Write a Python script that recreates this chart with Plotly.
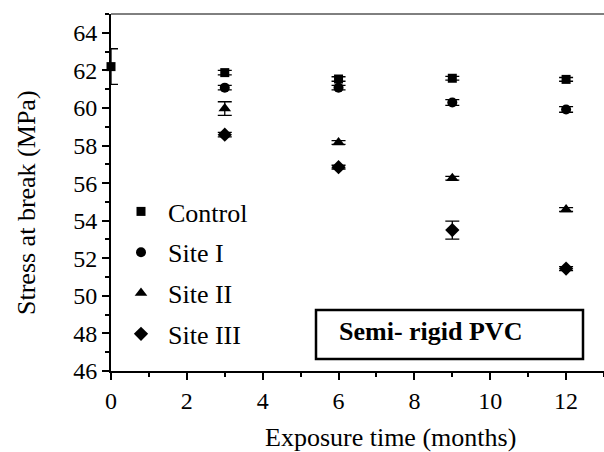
import plotly.graph_objects as go

series_names = ["Control", "Site I", "Site II", "Site III"]
symbols = ["square", "circle", "triangle-up", "diamond"]
sizes = [9, 10, 11, 11]

x_control = [0, 3, 6, 9, 12]
y_control = [62.2, 61.88, 61.54, 61.58, 61.52]
e_control = [0.95, 0.12, 0.12, 0.1, 0.1]

x_sites = [3, 6, 9, 12]
y_site1 = [61.08, 61.08, 60.29, 59.92]
e_site1 = [0.12, 0.12, 0.15, 0.15]
y_site2 = [59.97, 58.16, 56.26, 54.59]
e_site2 = [0.36, 0.1, 0.1, 0.1]
y_site3 = [58.58, 56.85, 53.5, 51.45]
e_site3 = [0.12, 0.1, 0.48, 0.1]

xs = [x_control, x_sites, x_sites, x_sites]
ys = [y_control, y_site1, y_site2, y_site3]
es = [e_control, e_site1, e_site2, e_site3]

FONT = "Liberation Serif"
L, B, PW, PH = 111, 81, 493, 357

def px(x):
    return (x - L) / PW

def py(y):
    return (452 - B - y) / PH

fig = go.Figure()
for i, name in enumerate(series_names):
    fig.add_trace(go.Scatter(
        x=xs[i], y=ys[i], mode="markers", name=name,
        legendgroup=name,
        marker=dict(symbol=symbols[i], size=sizes[i], color="black"),
        error_y=dict(type="data", array=es[i], visible=True, color="black",
                     thickness=1.3, width=7),
        cliponaxis=False,
    ))

fig.update_layout(
    width=604, height=452,
    margin=dict(l=L, r=0, t=14, b=B),
    paper_bgcolor="white", plot_bgcolor="white",
    font=dict(family=FONT, size=24, color="black"),
    showlegend=True,
    legend=dict(x=px(114), y=py(188), xanchor="left", yanchor="top",
                bgcolor="rgba(0,0,0,0)", font=dict(family=FONT, size=26),
                tracegroupgap=4, traceorder="grouped", itemwidth=44),
    xaxis=dict(range=[0, 13], tick0=0, dtick=2, showgrid=False, zeroline=False,
               showline=True, linecolor="black", linewidth=2, mirror=False,
               ticks="outside", ticklen=7, tickwidth=2, tickcolor="black",
               minor=dict(dtick=1, ticks="outside", ticklen=4, tickwidth=2, tickcolor="black"),
               tickfont=dict(family=FONT, size=24)),
    yaxis=dict(range=[46, 65], tick0=46, dtick=2, showgrid=False, zeroline=False,
               showline=True, linecolor="black", linewidth=2,
               ticks="outside", ticklen=7, tickwidth=2, tickcolor="black",
               minor=dict(dtick=1, ticks="outside", ticklen=4, tickwidth=2, tickcolor="black"),
               tickfont=dict(family=FONT, size=24)),
)

# top border line
fig.add_shape(type="line", xref="paper", yref="paper", x0=0, x1=1, y0=1, y1=1,
              line=dict(color="black", width=1))

# axis titles
fig.add_annotation(text="Exposure time (months)", xref="paper", yref="paper",
                   x=px(390), y=py(437), xanchor="center", yanchor="middle", showarrow=False,
                   font=dict(family=FONT, size=26))
fig.add_annotation(text="Stress at break (MPa)", xref="paper", yref="paper",
                   x=px(26), y=py(203), xanchor="center", yanchor="middle", showarrow=False,
                   textangle=-90, font=dict(family=FONT, size=26))

# boxed label
fig.add_shape(type="rect", xref="paper", yref="paper",
              x0=px(316), x1=px(583), y0=py(359), y1=py(310),
              line=dict(color="black", width=2.5), fillcolor="rgba(0,0,0,0)")
fig.add_annotation(text="<b>Semi- rigid PVC</b>", xref="paper", yref="paper",
                   x=px(337), y=py(331), xanchor="left", yanchor="middle",
                   showarrow=False, font=dict(family=FONT, size=26))

fig.write_html("out.html")
